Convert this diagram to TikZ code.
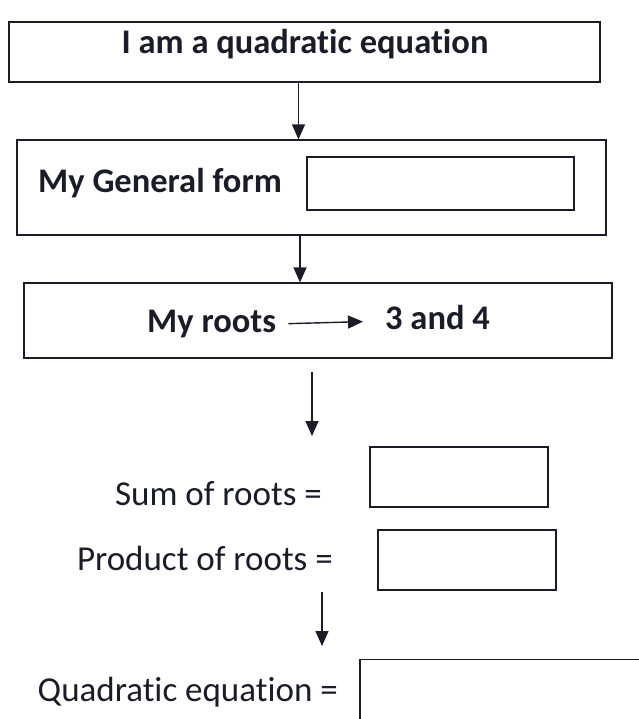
\documentclass[tikz,border=0pt]{standalone}
\usepackage{fontspec}
\setmainfont{Carlito}[Ligatures=NoCommon]
\usetikzlibrary{arrows.meta,positioning}
\definecolor{ink}{RGB}{28,28,40}

\begin{document}
\begin{tikzpicture}[x=1pt,y=-1pt,
  box/.style={draw=ink, line width=1.2pt, inner sep=0pt},
  flow/.style={draw=ink, line width=1.4pt, -{Triangle[length=15pt,width=13pt]}},
  lbl/.style={text=ink, inner sep=0pt, text height=24pt, text depth=7pt,
    font=\fontsize{35}{40}\selectfont},
  blbl/.style={lbl, font=\fontsize{34.5}{40}\selectfont\bfseries}]

\useasboundingbox (0,0) rectangle (638,719);

% ---- Boxes of the chain ----
\node[box, minimum width=591pt, minimum height=60pt] (eqn) at (304.5,52) {};
\node[blbl] (eqntext) at (305,45) {I am a quadratic equation};

\node[box, minimum width=589pt, minimum height=95pt] (form) at (311.5,187.5) {};
\node[blbl, anchor=west] (formtext) at (38,184) {My General form};
\node[box, minimum width=267pt, minimum height=53pt] (formblank) at (440.5,183.5) {};

\node[box, minimum width=588pt, minimum height=75pt] (rootbox) at (318,320.5) {};
\node[blbl, anchor=west] (roots) at (147,324) {My roots};
\node[blbl, anchor=west] (vals) at (385,321) {3 and 4};

% ---- Sum and product ----
\node[lbl, anchor=east] (sumtext) at (322,497) {Sum of roots =};
\node[box, minimum width=178pt, minimum height=60pt] (sumblank) at (459,477) {};

\node[lbl, anchor=east] (prodtext) at (333,562) {Product of roots =};
\node[box, minimum width=178pt, minimum height=60pt] (prodblank) at (467,560) {};

% ---- Final answer ----
\node[lbl, anchor=east] (quadtext) at (338,693) {Quadratic equation =};
\node[box, minimum width=320pt, minimum height=65pt] (quadblank) at (520,692) {};

% ---- Free arrow ends ----
\coordinate (s3) at (312,372);
\coordinate (e3) at (312,436);
\coordinate (s4) at (322,592);
\coordinate (e4) at (322,646);

% ---- Arrows ----
\draw[flow] ([xshift=-6pt]eqn.south) -- ([xshift=-13pt]form.north);
\draw[flow] ([xshift=-11.5pt]form.south) -- ([xshift=-18pt]rootbox.north);
\draw[flow, shorten <=12pt, shorten >=22pt] (roots.east) -- (vals.west);
\draw[flow] (s3) -- (e3);
\draw[flow] (s4) -- (e4);

\end{tikzpicture}
\end{document}
